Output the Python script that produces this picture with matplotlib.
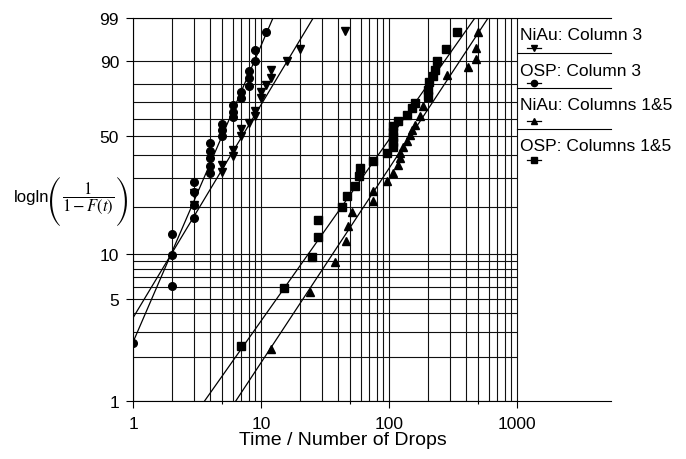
import numpy as np
import matplotlib
matplotlib.use("Agg")
from matplotlib import pyplot as plt
from matplotlib.ticker import NullLocator, NullFormatter

plt.rcParams['font.family'] = ['Liberation Sans', 'DejaVu Sans']
plt.rcParams['mathtext.fontset'] = 'stix'

# data: x = number of drops, F = cumulative failure (%)
niau3_x = [3, 3, 5, 5, 6, 6, 7, 7, 8, 9, 9, 10, 10, 11, 12, 12, 16, 20, 45]
niau3_f = [20.6, 24.4, 32.4, 35.5, 39.7, 42.7, 50.2, 54.1, 57.6, 61.7, 64.7, 72.2, 75.6, 79.2,
           82.8, 86.5, 90.3, 94.0, 97.6]

osp3_x = [1, 2, 2, 2, 3, 3, 3, 3, 4, 4, 4, 4, 4, 5, 5, 5, 6, 6, 6, 7, 7, 8, 8, 8, 9, 9, 11]
osp3_f = [2.5, 6.1, 9.9, 13.5, 17.1, 20.6, 24.7, 28.4, 32.0, 35.0, 38.7, 42.2, 46.3, 50.2,
          53.6, 57.0, 61.1, 64.0, 68.1, 72.2, 75.6, 78.8, 82.8, 86.1, 90.1, 93.7, 97.5]

niau15_x = [12, 24, 38, 46, 48, 51, 75, 75, 96, 108, 118, 122, 122, 128, 138, 146, 150, 160,
            175, 184, 202, 202, 284, 414, 479, 479, 500]
niau15_f = [2.3, 5.6, 8.9, 12.2, 15.2, 18.7, 21.8, 25.1, 28.6, 32.2, 35.7, 38.7, 41.2, 44.2,
            47.4, 51.0, 53.5, 56.4, 61.7, 67.5, 73.0, 77.2, 84.3, 87.7, 91.0, 94.1, 97.5]

osp15_x = [7, 15, 25, 28, 28, 43, 47, 54, 58, 59, 75, 96, 108, 108, 108, 108, 108, 118, 138,
           150, 160, 202, 202, 206, 221, 228, 237, 279, 340]
osp15_f = [2.4, 5.9, 9.6, 12.9, 16.6, 20.1, 23.4, 26.9, 30.7, 34.1, 37.3, 41.2, 44.2, 46.9,
           49.6, 52.4, 55.8, 58.7, 62.3, 66.5, 69.6, 73.3, 76.6, 80.8, 83.8, 86.7, 90.3, 94.0, 97.5]

# fitted Weibull lines (shape, scale)
fit_beta = [1.48, 2.06, 1.35, 1.26]
fit_eta = [9.11, 5.91, 191.8, 139.5]

labels = ["NiAu: Column 3", "OSP: Column 3", "NiAu: Columns 1&5", "OSP: Columns 1&5"]
markers = ["v", "o", "^", "s"]
xs = [niau3_x, osp3_x, niau15_x, osp15_x]
fs = [niau3_f, osp3_f, niau15_f, osp15_f]

y_ticks = [1, 5, 10, 50, 90, 99]
y_grid = [1, 2, 3, 4, 5, 6, 7, 8, 9, 10, 20, 30, 40, 50, 60, 70, 80, 90, 99]


def weibull_fwd(p):
    p = np.clip(np.asarray(p, dtype=float), 1e-6, 100 - 1e-9)
    return np.log10(-np.log(1 - p / 100.0))


def weibull_inv(w):
    return 100.0 * (1 - np.exp(-10.0 ** np.asarray(w, dtype=float)))


W, H = 686, 460
fig = plt.figure(figsize=(6.86, 4.6), dpi=100)
ax = fig.add_axes([133 / W, 1 - 402 / H, 478 / W, 383 / H])
ax.set_xscale('log')
ax.set_yscale('function', functions=(weibull_fwd, weibull_inv))
ax.set_xlim(1, 10 ** (478 / 128))
ax.set_ylim(1, 99)

# grid, only up to 1000 on x
v_grid = [m * 10 ** d for d in range(3) for m in range(1, 10)] + [1000]
ax.vlines(v_grid, 1, 99, colors='#111111', linewidth=0.8, zorder=1)
ax.hlines(y_grid, 1, 1000, colors='#111111', linewidth=0.8, zorder=1)

# fit lines
for b, eta in zip(fit_beta, fit_eta):
    x_lo = eta * (-np.log(1 - 0.002)) ** (1 / b)
    x_hi = eta * (-np.log(1 - 0.9995)) ** (1 / b)
    xx = np.geomspace(x_lo, x_hi, 50)
    yy = 100 * (1 - np.exp(-(xx / eta) ** b))
    ax.plot(xx, yy, color='black', linewidth=0.9, zorder=2)

for x, f, m in zip(xs, fs, markers):
    ax.plot(x, f, linestyle='none', marker=m, color='black', markersize=5.5, zorder=3)

# axes styling
ax.spines['right'].set_visible(False)
for s in ['left', 'bottom', 'top']:
    ax.spines[s].set_linewidth(0.8)
    ax.spines[s].set_color('black')

ax.set_xticks([1, 10, 100, 1000])
ax.set_xticklabels(['1', '10', '100', '1000'])
ax.set_xticks([5, 50, 500], minor=True)
ax.xaxis.set_minor_formatter(NullFormatter())
ax.set_yticks(y_ticks)
ax.set_yticklabels([str(v) for v in y_ticks])
ax.yaxis.set_minor_locator(NullLocator())
ax.tick_params(which='major', direction='out', length=5, width=0.8, labelsize=12.5)
ax.tick_params(axis='x', which='major', pad=6)
ax.tick_params(axis='y', which='major', pad=5)
ax.tick_params(axis='x', which='minor', direction='out', length=2.5, width=0.8)
ax.tick_params(top=False, right=False)

# legend drawn as rows in the free area right of 1000
text_y = [0.958, 0.864, 0.773, 0.666]
mark_y = [0.922, 0.830, 0.731, 0.629]
sep_y = [0.909, 0.817, 0.710]
tr = ax.transAxes
for lab, m, ty, my in zip(labels, markers, text_y, mark_y):
    ax.text(0.809, ty, lab, transform=tr, fontsize=12.5, va='center', ha='left')
    ax.plot([0.824, 0.854], [my, my], transform=tr, color='black', linewidth=0.9, clip_on=False)
    ax.plot([0.839], [my], transform=tr, marker=m, color='black', markersize=4.5, clip_on=False)
for sy in sep_y:
    ax.plot([0.803, 1.0], [sy, sy], transform=tr, color='black', linewidth=0.8, clip_on=False)

fig.text(0.5, 1 - 441 / H, "Time / Number of Drops", fontsize=14, ha='center', va='center')

# y label: logln( 1 / (1 - F(t)) ) put together from pieces
fig.text(14 / W, 1 - 202 / H, "logln", fontsize=12, ha='left', va='baseline')
fig.text(88 / W, 1 - 198 / H, r'$\dfrac{1}{1-F(t)}$', fontsize=12, ha='center', va='center')
fig.text(54 / W, 1 - 201 / H, "(", family='STIXSizeFourSym', fontsize=11.5, ha='center', va='center')
fig.text(122 / W, 1 - 201 / H, ")", family='STIXSizeFourSym', fontsize=11.5, ha='center', va='center')

plt.savefig("out.png", dpi=100)
